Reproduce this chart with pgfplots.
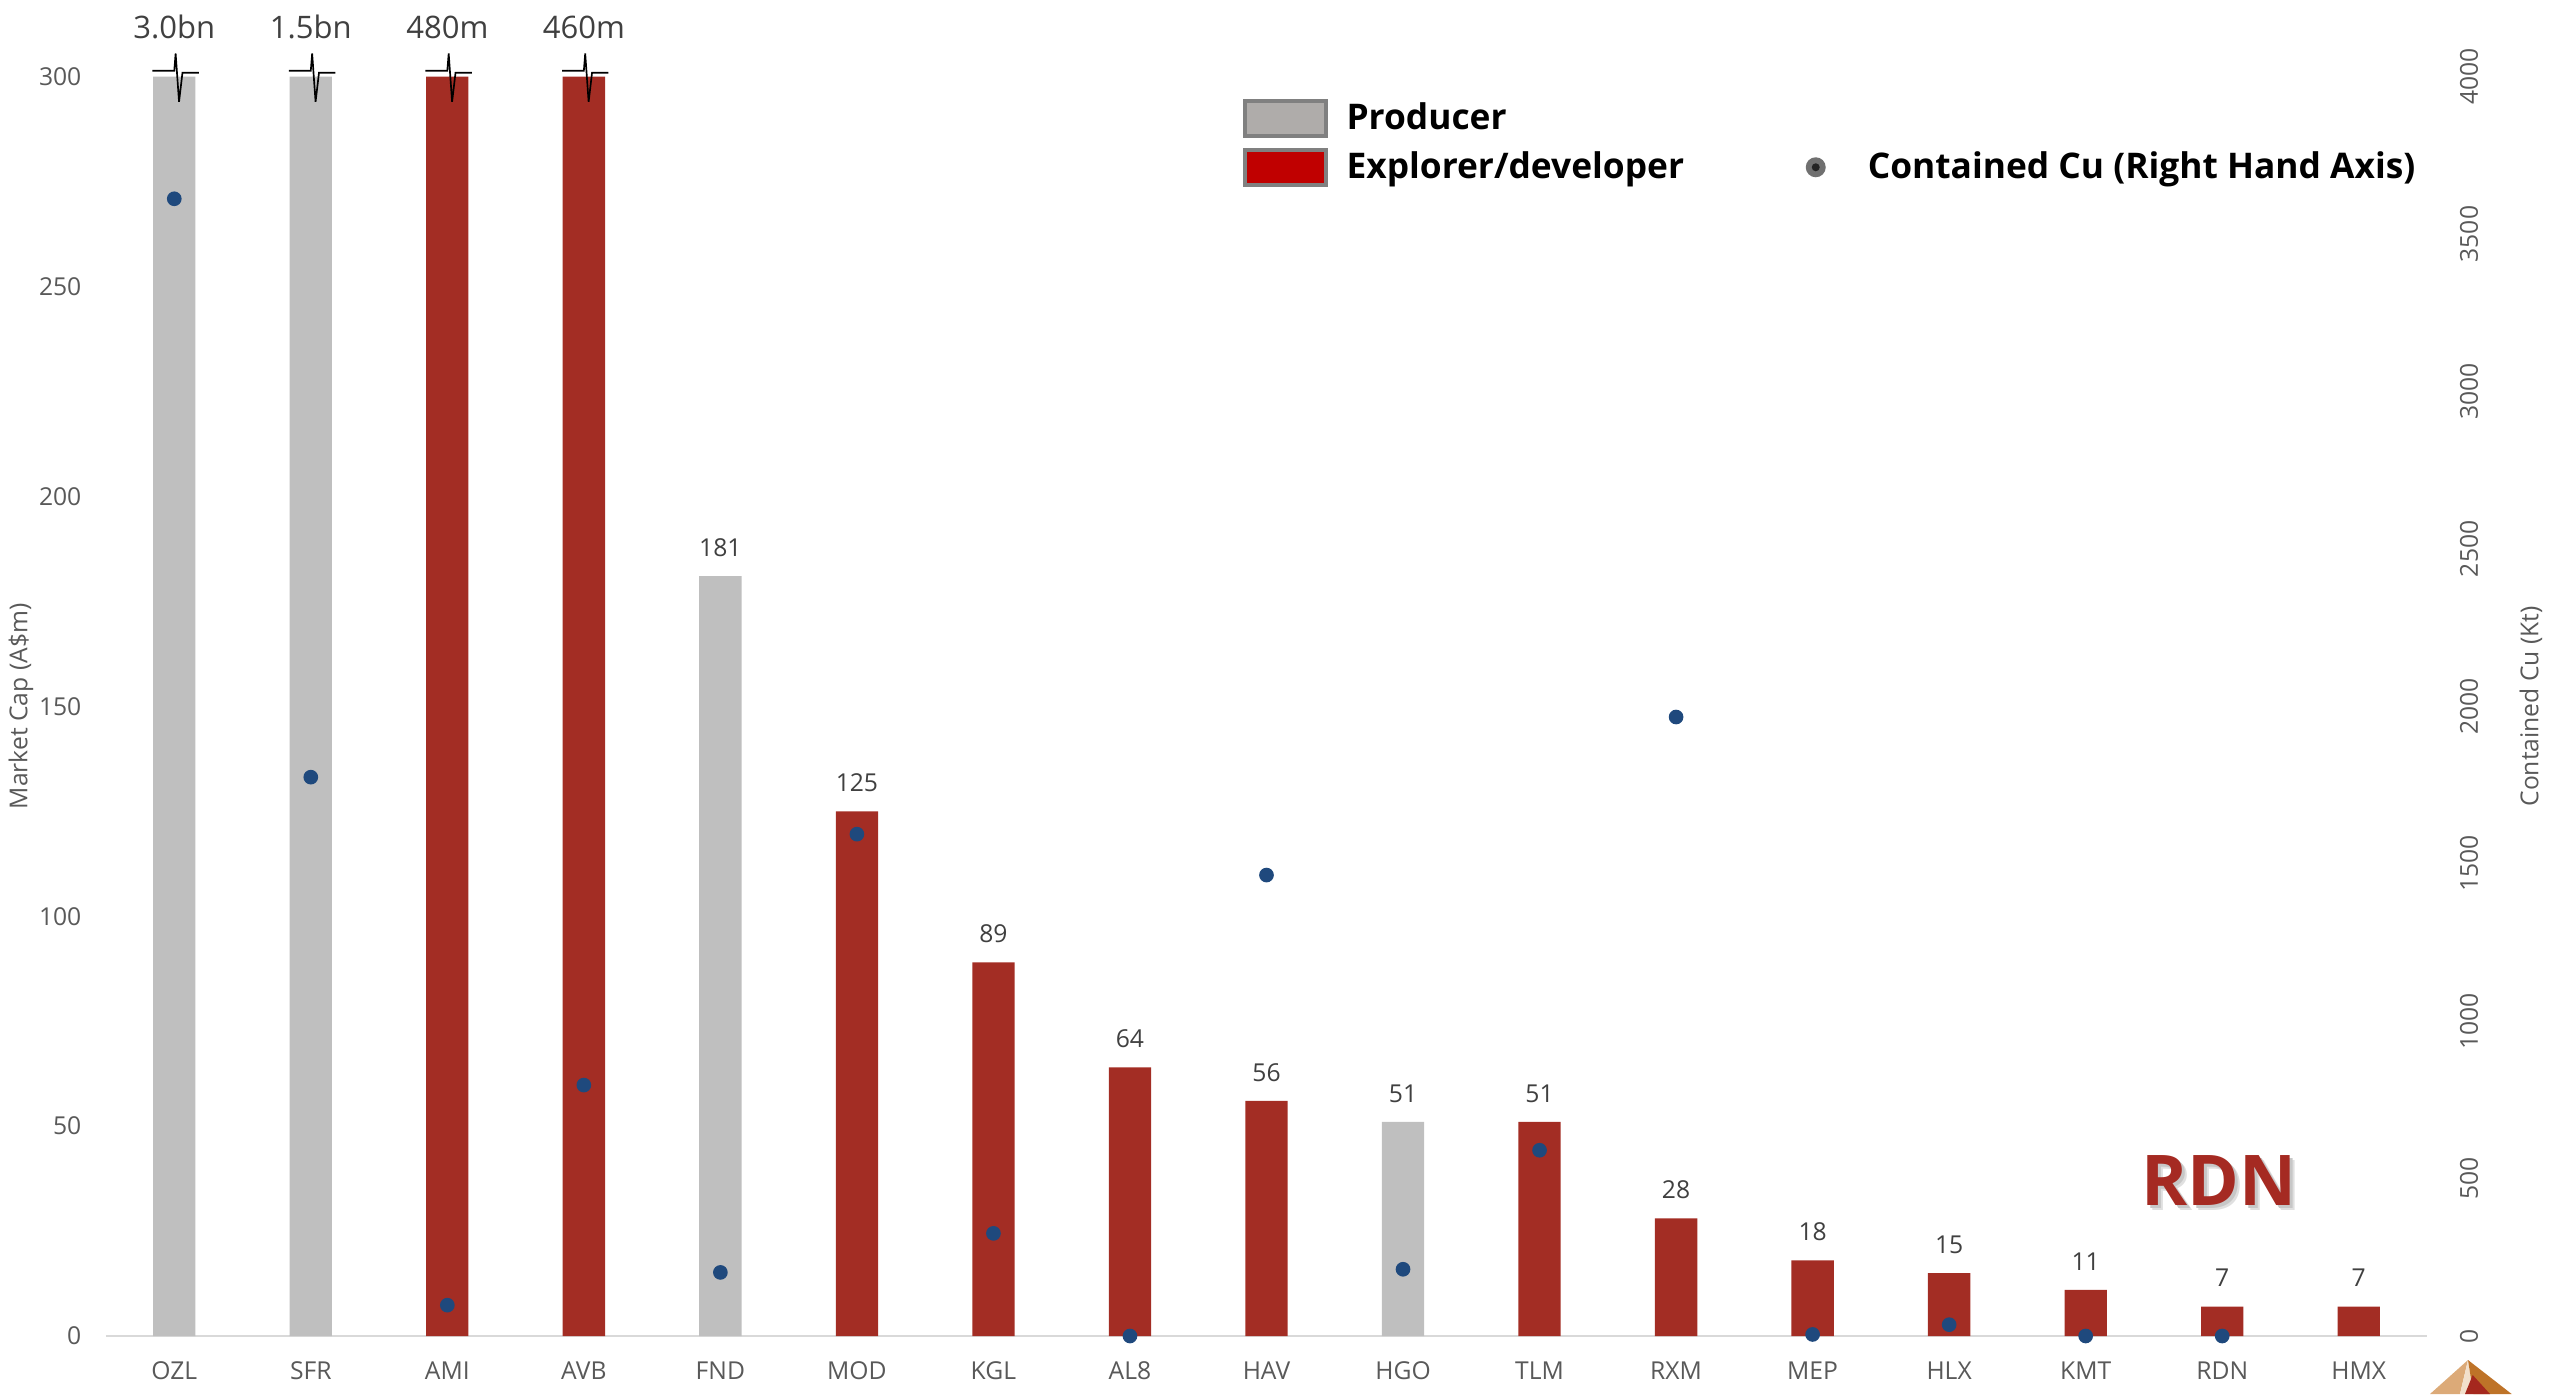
\documentclass[border=0pt]{standalone}
\usepackage{fontspec}
\setmainfont{Open Sans}
\usepackage{pgfplots}
\pgfplotsset{compat=1.18}
\definecolor{barGray}{RGB}{191,191,191}
\definecolor{barRed}{RGB}{163,45,36}
\definecolor{dotBlue}{RGB}{31,73,125}
\definecolor{tickGray}{RGB}{89,89,89}
\definecolor{valGray}{RGB}{64,64,64}
\definecolor{baseGray}{RGB}{217,217,217}
\definecolor{legGray}{RGB}{175,172,170}
\definecolor{legRed}{RGB}{192,0,0}
\definecolor{legBorder}{RGB}{128,128,128}
\definecolor{legDotOut}{RGB}{112,112,112}
\definecolor{legDotIn}{RGB}{35,35,35}
\definecolor{wmRed}{RGB}{165,42,34}
\definecolor{logoTan}{RGB}{220,170,120}
\definecolor{logoCream}{RGB}{242,224,204}
\definecolor{logoBrown}{RGB}{190,115,40}
\definecolor{logoRed}{RGB}{165,40,30}
\newcommand{\tickfont}{\fontsize{7.4}{8.5}\selectfont}
\begin{document}
\begin{tikzpicture}
\useasboundingbox (0,0) rectangle (766.5pt,-418.2pt);
\begin{axis}[
  at={(31.8pt,-400.8pt)}, anchor=south west,
  scale only axis, width=696.3pt, height=377.82pt,
  xmin=-0.5, xmax=16.5, ymin=0, ymax=300,
  axis x line*=bottom, axis y line*=left,
  x axis line style={-, draw=baseGray, line width=0.6pt},
  y axis line style={draw=none},
  tick style={draw=none},
  xtick={0,...,16},
  xticklabels={OZL,SFR,AMI,AVB,FND,MOD,KGL,AL8,HAV,HGO,TLM,RXM,MEP,HLX,KMT,RDN,HMX},
  ytick={0,50,...,300},
  tick label style={font=\tickfont, text=tickGray},
  /pgf/number format/assume math mode=true,
  xticklabel style={anchor=north, inner sep=0pt, yshift=-7.5pt},
  yticklabel style={anchor=east, inner sep=0pt, xshift=-7.2pt},
  ylabel={Market Cap (A\$m)},
  every axis y label/.style={at={(axis description cs:-0.0366,0.5)}, rotate=90, anchor=center, font=\tickfont, text=tickGray},
  clip=false,
  legend columns=2,
  legend cell align=left,
  legend style={at={(axis description cs:0.4894,0.985)}, anchor=north west, draw=none, fill=none, inner sep=0pt,
    font=\bfseries\fontsize{10.6}{12}\selectfont, row sep=1pt,
    /tikz/every odd column/.append style={column sep=3.7pt},
    /tikz/every even column/.append style={column sep=34.5pt}},
]
% capped grey bars
\addplot[ybar, bar width=0.31, bar shift=0pt, fill=barGray, draw=none, forget plot,
  point meta=explicit symbolic, nodes near coords={\pgfplotspointmeta},
  nodes near coords style={font=\fontsize{9.3}{11}\selectfont, text=valGray, anchor=south, inner sep=0pt, yshift=11.2pt}]
  coordinates {(0,300) [3.0bn] (1,300) [1.5bn]};
% capped red bars
\addplot[ybar, bar width=0.31, bar shift=0pt, fill=barRed, draw=none, forget plot,
  point meta=explicit symbolic, nodes near coords={\pgfplotspointmeta},
  nodes near coords style={font=\fontsize{9.3}{11}\selectfont, text=valGray, anchor=south, inner sep=0pt, yshift=11.2pt}]
  coordinates {(2,300) [480m] (3,300) [460m]};
% grey bars (producers)
\addplot[ybar, bar width=0.31, bar shift=0pt, fill=barGray, draw=none, forget plot,
  point meta=explicit symbolic, nodes near coords={\pgfplotspointmeta},
  nodes near coords style={font=\tickfont, text=valGray, anchor=south, inner sep=0pt, yshift=5.7pt}]
  coordinates {(4,181) [181] (9,51) [51]};
% red bars (explorers/developers)
\addplot[ybar, bar width=0.31, bar shift=0pt, fill=barRed, draw=none, forget plot,
  point meta=explicit symbolic, nodes near coords={\pgfplotspointmeta},
  nodes near coords style={font=\tickfont, text=valGray, anchor=south, inner sep=0pt, yshift=5.7pt}]
  coordinates {(5,125) [125] (6,89) [89] (7,64) [64] (8,56) [56] (10,51) [51] (11,28) [28]
               (12,18) [18] (13,15) [15] (14,11) [11] (15,7) [7] (16,7) [7]};
% axis-break markers
\draw[black, line width=0.5pt] (axis cs:-0.16,301.4) -- (axis cs:0.0,301.4) -- (axis cs:0.01,305.5) -- (axis cs:0.035,294) -- (axis cs:0.06,300.9) -- (axis cs:0.18,300.9);
\draw[black, line width=0.5pt] (axis cs:0.84,301.4) -- (axis cs:1.0,301.4) -- (axis cs:1.01,305.5) -- (axis cs:1.035,294) -- (axis cs:1.06,300.9) -- (axis cs:1.18,300.9);
\draw[black, line width=0.5pt] (axis cs:1.84,301.4) -- (axis cs:2.0,301.4) -- (axis cs:2.01,305.5) -- (axis cs:2.035,294) -- (axis cs:2.06,300.9) -- (axis cs:2.18,300.9);
\draw[black, line width=0.5pt] (axis cs:2.84,301.4) -- (axis cs:3.0,301.4) -- (axis cs:3.01,305.5) -- (axis cs:3.035,294) -- (axis cs:3.06,300.9) -- (axis cs:3.18,300.9);
% legend
\addlegendimage{legend image code/.code={\draw[draw=legBorder, line width=1.2pt, fill=legGray] (0.6pt,-5.25pt) rectangle (24.9pt,5.25pt);}}
\addlegendentry{Producer}
\addlegendimage{empty legend}
\addlegendentry{}
\addlegendimage{legend image code/.code={\draw[draw=legBorder, line width=1.2pt, fill=legRed] (0.6pt,-5.25pt) rectangle (24.9pt,5.25pt);}}
\addlegendentry{Explorer/developer}
\addlegendimage{legend image code/.code={\path[draw=none, fill=none] (0,-1pt) rectangle (12.9pt,1pt); \fill[legDotOut, draw=none] (3pt,0) circle (3pt); \fill[legDotIn, draw=none] (3pt,0) circle (1.2pt);}}
\addlegendentry{Contained Cu (Right Hand Axis)}
\end{axis}
\begin{axis}[
  at={(31.8pt,-400.8pt)}, anchor=south west,
  scale only axis, width=696.3pt, height=377.82pt,
  xmin=-0.5, xmax=16.5, ymin=0, ymax=4000,
  hide x axis, axis y line*=right,
  y axis line style={draw=none}, tick style={draw=none},
  ytick={0,500,...,4000},
  /pgf/number format/assume math mode=true,
  /pgf/number format/1000 sep={},
  yticklabel style={font=\tickfont, text=tickGray, xshift=12.6pt, rotate=90, anchor=center},
  ylabel={Contained Cu (Kt)},
  every axis y label/.style={at={(axis description cs:1.0448,0.5)}, rotate=90, anchor=center, font=\tickfont, text=tickGray},
  clip=false,
]
\addplot[only marks, mark=*, mark size=2pt, mark options={fill=dotBlue, draw=dotBlue}]
  coordinates {(0,3612) (1,1775) (2,98) (3,797) (4,202) (5,1594) (6,326) (7,0) (8,1464)
               (9,212) (10,590) (11,1966) (12,5) (13,36) (14,0) (15,0)};
\end{axis}
% watermark with soft shadow (single text node)
\node[font=\bfseries\fontsize{21}{25}\selectfont, inner sep=0pt] at (665.7pt,-354.9pt)
  {\rlap{\hspace{1.5pt}\raisebox{-1.5pt}{\textcolor{black!12}{RDN}}}\rlap{\hspace{0.8pt}\raisebox{-0.8pt}{\textcolor{black!22}{RDN}}}\textcolor{wmRed}{RDN}};
% logo
\fill[logoTan] (740.4pt,-408pt) -- (729pt,-418.2pt) -- (738pt,-418.2pt) -- cycle;
\fill[logoCream] (740.4pt,-408pt) -- (738pt,-418.2pt) -- (742pt,-418.2pt) -- cycle;
\fill[logoBrown] (740.4pt,-408pt) -- (742pt,-418.2pt) -- (753.5pt,-418.2pt) -- cycle;
\fill[logoRed] (741.8pt,-412.5pt) -- (739.5pt,-418.2pt) -- (747pt,-418.2pt) -- cycle;
\end{tikzpicture}
\end{document}
